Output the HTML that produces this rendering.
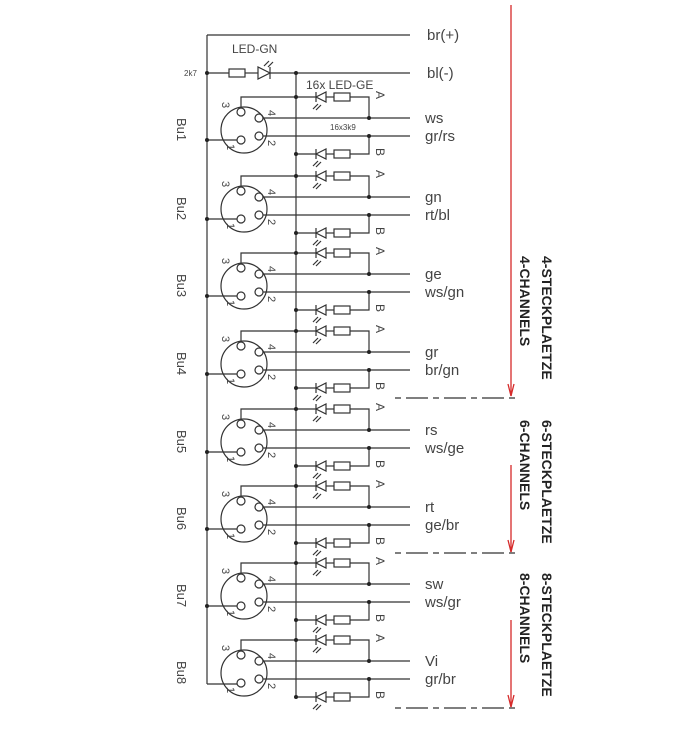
<!DOCTYPE html>
<html><head><meta charset="utf-8"><style>
html,body{margin:0;padding:0;background:#fff;}
svg{display:block;}
text{font-family:"Liberation Sans",sans-serif;fill:#444;}
</style></head><body>
<svg width="693" height="745" viewBox="0 0 693 745" xmlns="http://www.w3.org/2000/svg">
<g stroke="#333" stroke-width="1.2" fill="none">
<line x1="207" y1="35" x2="410" y2="35"/>
<line x1="207" y1="35" x2="207" y2="684"/>
<line x1="207" y1="73" x2="229" y2="73"/>
<rect x="229" y="69" width="16" height="8"/>
<line x1="245" y1="73" x2="258" y2="73"/>
<polygon points="258,67 258,79 270,73"/>
<line x1="270" y1="67" x2="270" y2="79"/>
<line x1="270" y1="73" x2="410" y2="73"/>
<line x1="264" y1="66" x2="269" y2="61"/><line x1="268" y1="67" x2="273" y2="62"/>
<line x1="296" y1="73" x2="296" y2="697"/>
</g>
<circle cx="207" cy="73" r="2" fill="#222"/><circle cx="296" cy="73" r="2" fill="#222"/>
<text x="232" y="53" font-size="12">LED-GN</text>
<text x="184" y="76" font-size="8">2k7</text>
<text x="306" y="89" font-size="12">16x LED-GE</text>
<text x="330" y="130" font-size="8">16x3k9</text>
<text x="427" y="40" font-size="15">br(+)</text>
<text x="427" y="78" font-size="15">bl(-)</text>

<g id="blocks">
<!-- block template repeated -->
<g transform="translate(0,118)"><g stroke="#333" stroke-width="1.2" fill="none"><line x1="263" y1="0" x2="410" y2="0"/><line x1="263" y1="18" x2="410" y2="18"/><circle cx="244" cy="12" r="23"/><circle cx="241" cy="-6" r="4"/><circle cx="259" cy="0" r="4"/><circle cx="259" cy="18" r="4"/><circle cx="241" cy="22" r="4"/><polyline points="241,-10 241,-21 316,-21"/><polygon points="316,-21 326,-26 326,-16"/><line x1="316" y1="-26" x2="316" y2="-16"/><line x1="326" y1="-21" x2="334" y2="-21"/><rect x="334" y="-25" width="16" height="8"/><polyline points="350,-21 369,-21 369,0"/><line x1="296" y1="36" x2="316" y2="36"/><polygon points="316,36 326,31 326,41"/><line x1="316" y1="31" x2="316" y2="41"/><line x1="326" y1="36" x2="334" y2="36"/><rect x="334" y="32" width="16" height="8"/><polyline points="350,36 369,36 369,18"/><line x1="237" y1="22" x2="207" y2="22"/><line x1="318" y1="-14" x2="313" y2="-9"/><line x1="321" y1="-13" x2="316" y2="-8"/><line x1="318" y1="43" x2="313" y2="48"/><line x1="321" y1="44" x2="316" y2="49"/></g><g fill="#222"><circle cx="296" cy="-21" r="2"/><circle cx="296" cy="36" r="2"/><circle cx="369" cy="0" r="2"/><circle cx="369" cy="18" r="2"/><circle cx="207" cy="22" r="2"/></g><text font-size="11" transform="translate(222,-16) rotate(90)">3</text><text font-size="11" transform="translate(268,-8) rotate(90)">4</text><text font-size="11" transform="translate(268,22) rotate(90)">2</text><text font-size="11" transform="translate(227,26) rotate(90)">1</text><text font-size="12" transform="translate(376,-27) rotate(90)">A</text><text font-size="12" transform="translate(376,30) rotate(90)">B</text><text font-size="13" transform="translate(177,0) rotate(90)">Bu1</text><text x="425" y="5" font-size="15">ws</text><text x="425" y="23" font-size="15">gr/rs</text></g>

<g transform="translate(0,197)"><g stroke="#333" stroke-width="1.2" fill="none"><line x1="263" y1="0" x2="410" y2="0"/><line x1="263" y1="18" x2="410" y2="18"/><circle cx="244" cy="12" r="23"/><circle cx="241" cy="-6" r="4"/><circle cx="259" cy="0" r="4"/><circle cx="259" cy="18" r="4"/><circle cx="241" cy="22" r="4"/><polyline points="241,-10 241,-21 316,-21"/><polygon points="316,-21 326,-26 326,-16"/><line x1="316" y1="-26" x2="316" y2="-16"/><line x1="326" y1="-21" x2="334" y2="-21"/><rect x="334" y="-25" width="16" height="8"/><polyline points="350,-21 369,-21 369,0"/><line x1="296" y1="36" x2="316" y2="36"/><polygon points="316,36 326,31 326,41"/><line x1="316" y1="31" x2="316" y2="41"/><line x1="326" y1="36" x2="334" y2="36"/><rect x="334" y="32" width="16" height="8"/><polyline points="350,36 369,36 369,18"/><line x1="237" y1="22" x2="207" y2="22"/><line x1="318" y1="-14" x2="313" y2="-9"/><line x1="321" y1="-13" x2="316" y2="-8"/><line x1="318" y1="43" x2="313" y2="48"/><line x1="321" y1="44" x2="316" y2="49"/></g><g fill="#222"><circle cx="296" cy="-21" r="2"/><circle cx="296" cy="36" r="2"/><circle cx="369" cy="0" r="2"/><circle cx="369" cy="18" r="2"/><circle cx="207" cy="22" r="2"/></g><text font-size="11" transform="translate(222,-16) rotate(90)">3</text><text font-size="11" transform="translate(268,-8) rotate(90)">4</text><text font-size="11" transform="translate(268,22) rotate(90)">2</text><text font-size="11" transform="translate(227,26) rotate(90)">1</text><text font-size="12" transform="translate(376,-27) rotate(90)">A</text><text font-size="12" transform="translate(376,30) rotate(90)">B</text><text font-size="13" transform="translate(177,0) rotate(90)">Bu2</text><text x="425" y="5" font-size="15">gn</text><text x="425" y="23" font-size="15">rt/bl</text></g>

<g transform="translate(0,274)"><g stroke="#333" stroke-width="1.2" fill="none"><line x1="263" y1="0" x2="410" y2="0"/><line x1="263" y1="18" x2="410" y2="18"/><circle cx="244" cy="12" r="23"/><circle cx="241" cy="-6" r="4"/><circle cx="259" cy="0" r="4"/><circle cx="259" cy="18" r="4"/><circle cx="241" cy="22" r="4"/><polyline points="241,-10 241,-21 316,-21"/><polygon points="316,-21 326,-26 326,-16"/><line x1="316" y1="-26" x2="316" y2="-16"/><line x1="326" y1="-21" x2="334" y2="-21"/><rect x="334" y="-25" width="16" height="8"/><polyline points="350,-21 369,-21 369,0"/><line x1="296" y1="36" x2="316" y2="36"/><polygon points="316,36 326,31 326,41"/><line x1="316" y1="31" x2="316" y2="41"/><line x1="326" y1="36" x2="334" y2="36"/><rect x="334" y="32" width="16" height="8"/><polyline points="350,36 369,36 369,18"/><line x1="237" y1="22" x2="207" y2="22"/><line x1="318" y1="-14" x2="313" y2="-9"/><line x1="321" y1="-13" x2="316" y2="-8"/><line x1="318" y1="43" x2="313" y2="48"/><line x1="321" y1="44" x2="316" y2="49"/></g><g fill="#222"><circle cx="296" cy="-21" r="2"/><circle cx="296" cy="36" r="2"/><circle cx="369" cy="0" r="2"/><circle cx="369" cy="18" r="2"/><circle cx="207" cy="22" r="2"/></g><text font-size="11" transform="translate(222,-16) rotate(90)">3</text><text font-size="11" transform="translate(268,-8) rotate(90)">4</text><text font-size="11" transform="translate(268,22) rotate(90)">2</text><text font-size="11" transform="translate(227,26) rotate(90)">1</text><text font-size="12" transform="translate(376,-27) rotate(90)">A</text><text font-size="12" transform="translate(376,30) rotate(90)">B</text><text font-size="13" transform="translate(177,0) rotate(90)">Bu3</text><text x="425" y="5" font-size="15">ge</text><text x="425" y="23" font-size="15">ws/gn</text></g>

<g transform="translate(0,352)"><g stroke="#333" stroke-width="1.2" fill="none"><line x1="263" y1="0" x2="410" y2="0"/><line x1="263" y1="18" x2="410" y2="18"/><circle cx="244" cy="12" r="23"/><circle cx="241" cy="-6" r="4"/><circle cx="259" cy="0" r="4"/><circle cx="259" cy="18" r="4"/><circle cx="241" cy="22" r="4"/><polyline points="241,-10 241,-21 316,-21"/><polygon points="316,-21 326,-26 326,-16"/><line x1="316" y1="-26" x2="316" y2="-16"/><line x1="326" y1="-21" x2="334" y2="-21"/><rect x="334" y="-25" width="16" height="8"/><polyline points="350,-21 369,-21 369,0"/><line x1="296" y1="36" x2="316" y2="36"/><polygon points="316,36 326,31 326,41"/><line x1="316" y1="31" x2="316" y2="41"/><line x1="326" y1="36" x2="334" y2="36"/><rect x="334" y="32" width="16" height="8"/><polyline points="350,36 369,36 369,18"/><line x1="237" y1="22" x2="207" y2="22"/><line x1="318" y1="-14" x2="313" y2="-9"/><line x1="321" y1="-13" x2="316" y2="-8"/><line x1="318" y1="43" x2="313" y2="48"/><line x1="321" y1="44" x2="316" y2="49"/></g><g fill="#222"><circle cx="296" cy="-21" r="2"/><circle cx="296" cy="36" r="2"/><circle cx="369" cy="0" r="2"/><circle cx="369" cy="18" r="2"/><circle cx="207" cy="22" r="2"/></g><text font-size="11" transform="translate(222,-16) rotate(90)">3</text><text font-size="11" transform="translate(268,-8) rotate(90)">4</text><text font-size="11" transform="translate(268,22) rotate(90)">2</text><text font-size="11" transform="translate(227,26) rotate(90)">1</text><text font-size="12" transform="translate(376,-27) rotate(90)">A</text><text font-size="12" transform="translate(376,30) rotate(90)">B</text><text font-size="13" transform="translate(177,0) rotate(90)">Bu4</text><text x="425" y="5" font-size="15">gr</text><text x="425" y="23" font-size="15">br/gn</text></g>

<g transform="translate(0,430)"><g stroke="#333" stroke-width="1.2" fill="none"><line x1="263" y1="0" x2="410" y2="0"/><line x1="263" y1="18" x2="410" y2="18"/><circle cx="244" cy="12" r="23"/><circle cx="241" cy="-6" r="4"/><circle cx="259" cy="0" r="4"/><circle cx="259" cy="18" r="4"/><circle cx="241" cy="22" r="4"/><polyline points="241,-10 241,-21 316,-21"/><polygon points="316,-21 326,-26 326,-16"/><line x1="316" y1="-26" x2="316" y2="-16"/><line x1="326" y1="-21" x2="334" y2="-21"/><rect x="334" y="-25" width="16" height="8"/><polyline points="350,-21 369,-21 369,0"/><line x1="296" y1="36" x2="316" y2="36"/><polygon points="316,36 326,31 326,41"/><line x1="316" y1="31" x2="316" y2="41"/><line x1="326" y1="36" x2="334" y2="36"/><rect x="334" y="32" width="16" height="8"/><polyline points="350,36 369,36 369,18"/><line x1="237" y1="22" x2="207" y2="22"/><line x1="318" y1="-14" x2="313" y2="-9"/><line x1="321" y1="-13" x2="316" y2="-8"/><line x1="318" y1="43" x2="313" y2="48"/><line x1="321" y1="44" x2="316" y2="49"/></g><g fill="#222"><circle cx="296" cy="-21" r="2"/><circle cx="296" cy="36" r="2"/><circle cx="369" cy="0" r="2"/><circle cx="369" cy="18" r="2"/><circle cx="207" cy="22" r="2"/></g><text font-size="11" transform="translate(222,-16) rotate(90)">3</text><text font-size="11" transform="translate(268,-8) rotate(90)">4</text><text font-size="11" transform="translate(268,22) rotate(90)">2</text><text font-size="11" transform="translate(227,26) rotate(90)">1</text><text font-size="12" transform="translate(376,-27) rotate(90)">A</text><text font-size="12" transform="translate(376,30) rotate(90)">B</text><text font-size="13" transform="translate(177,0) rotate(90)">Bu5</text><text x="425" y="5" font-size="15">rs</text><text x="425" y="23" font-size="15">ws/ge</text></g>

<g transform="translate(0,507)"><g stroke="#333" stroke-width="1.2" fill="none"><line x1="263" y1="0" x2="410" y2="0"/><line x1="263" y1="18" x2="410" y2="18"/><circle cx="244" cy="12" r="23"/><circle cx="241" cy="-6" r="4"/><circle cx="259" cy="0" r="4"/><circle cx="259" cy="18" r="4"/><circle cx="241" cy="22" r="4"/><polyline points="241,-10 241,-21 316,-21"/><polygon points="316,-21 326,-26 326,-16"/><line x1="316" y1="-26" x2="316" y2="-16"/><line x1="326" y1="-21" x2="334" y2="-21"/><rect x="334" y="-25" width="16" height="8"/><polyline points="350,-21 369,-21 369,0"/><line x1="296" y1="36" x2="316" y2="36"/><polygon points="316,36 326,31 326,41"/><line x1="316" y1="31" x2="316" y2="41"/><line x1="326" y1="36" x2="334" y2="36"/><rect x="334" y="32" width="16" height="8"/><polyline points="350,36 369,36 369,18"/><line x1="237" y1="22" x2="207" y2="22"/><line x1="318" y1="-14" x2="313" y2="-9"/><line x1="321" y1="-13" x2="316" y2="-8"/><line x1="318" y1="43" x2="313" y2="48"/><line x1="321" y1="44" x2="316" y2="49"/></g><g fill="#222"><circle cx="296" cy="-21" r="2"/><circle cx="296" cy="36" r="2"/><circle cx="369" cy="0" r="2"/><circle cx="369" cy="18" r="2"/><circle cx="207" cy="22" r="2"/></g><text font-size="11" transform="translate(222,-16) rotate(90)">3</text><text font-size="11" transform="translate(268,-8) rotate(90)">4</text><text font-size="11" transform="translate(268,22) rotate(90)">2</text><text font-size="11" transform="translate(227,26) rotate(90)">1</text><text font-size="12" transform="translate(376,-27) rotate(90)">A</text><text font-size="12" transform="translate(376,30) rotate(90)">B</text><text font-size="13" transform="translate(177,0) rotate(90)">Bu6</text><text x="425" y="5" font-size="15">rt</text><text x="425" y="23" font-size="15">ge/br</text></g>

<g transform="translate(0,584)"><g stroke="#333" stroke-width="1.2" fill="none"><line x1="263" y1="0" x2="410" y2="0"/><line x1="263" y1="18" x2="410" y2="18"/><circle cx="244" cy="12" r="23"/><circle cx="241" cy="-6" r="4"/><circle cx="259" cy="0" r="4"/><circle cx="259" cy="18" r="4"/><circle cx="241" cy="22" r="4"/><polyline points="241,-10 241,-21 316,-21"/><polygon points="316,-21 326,-26 326,-16"/><line x1="316" y1="-26" x2="316" y2="-16"/><line x1="326" y1="-21" x2="334" y2="-21"/><rect x="334" y="-25" width="16" height="8"/><polyline points="350,-21 369,-21 369,0"/><line x1="296" y1="36" x2="316" y2="36"/><polygon points="316,36 326,31 326,41"/><line x1="316" y1="31" x2="316" y2="41"/><line x1="326" y1="36" x2="334" y2="36"/><rect x="334" y="32" width="16" height="8"/><polyline points="350,36 369,36 369,18"/><line x1="237" y1="22" x2="207" y2="22"/><line x1="318" y1="-14" x2="313" y2="-9"/><line x1="321" y1="-13" x2="316" y2="-8"/><line x1="318" y1="43" x2="313" y2="48"/><line x1="321" y1="44" x2="316" y2="49"/></g><g fill="#222"><circle cx="296" cy="-21" r="2"/><circle cx="296" cy="36" r="2"/><circle cx="369" cy="0" r="2"/><circle cx="369" cy="18" r="2"/><circle cx="207" cy="22" r="2"/></g><text font-size="11" transform="translate(222,-16) rotate(90)">3</text><text font-size="11" transform="translate(268,-8) rotate(90)">4</text><text font-size="11" transform="translate(268,22) rotate(90)">2</text><text font-size="11" transform="translate(227,26) rotate(90)">1</text><text font-size="12" transform="translate(376,-27) rotate(90)">A</text><text font-size="12" transform="translate(376,30) rotate(90)">B</text><text font-size="13" transform="translate(177,0) rotate(90)">Bu7</text><text x="425" y="5" font-size="15">sw</text><text x="425" y="23" font-size="15">ws/gr</text></g>

<g transform="translate(0,661)"><g stroke="#333" stroke-width="1.2" fill="none"><line x1="263" y1="0" x2="410" y2="0"/><line x1="263" y1="18" x2="410" y2="18"/><circle cx="244" cy="12" r="23"/><circle cx="241" cy="-6" r="4"/><circle cx="259" cy="0" r="4"/><circle cx="259" cy="18" r="4"/><circle cx="241" cy="22" r="4"/><polyline points="241,-10 241,-21 316,-21"/><polygon points="316,-21 326,-26 326,-16"/><line x1="316" y1="-26" x2="316" y2="-16"/><line x1="326" y1="-21" x2="334" y2="-21"/><rect x="334" y="-25" width="16" height="8"/><polyline points="350,-21 369,-21 369,0"/><line x1="296" y1="36" x2="316" y2="36"/><polygon points="316,36 326,31 326,41"/><line x1="316" y1="31" x2="316" y2="41"/><line x1="326" y1="36" x2="334" y2="36"/><rect x="334" y="32" width="16" height="8"/><polyline points="350,36 369,36 369,18"/><line x1="237" y1="23" x2="207" y2="23"/><line x1="318" y1="-14" x2="313" y2="-9"/><line x1="321" y1="-13" x2="316" y2="-8"/><line x1="318" y1="43" x2="313" y2="48"/><line x1="321" y1="44" x2="316" y2="49"/></g><g fill="#222"><circle cx="296" cy="-21" r="2"/><circle cx="296" cy="36" r="2"/><circle cx="369" cy="0" r="2"/><circle cx="369" cy="18" r="2"/></g><text font-size="11" transform="translate(222,-16) rotate(90)">3</text><text font-size="11" transform="translate(268,-8) rotate(90)">4</text><text font-size="11" transform="translate(268,22) rotate(90)">2</text><text font-size="11" transform="translate(227,26) rotate(90)">1</text><text font-size="12" transform="translate(376,-27) rotate(90)">A</text><text font-size="12" transform="translate(376,30) rotate(90)">B</text><text font-size="13" transform="translate(177,0) rotate(90)">Bu8</text><text x="425" y="5" font-size="15">Vi</text><text x="425" y="23" font-size="15">gr/br</text></g>
</g>

<!-- dashed separators -->
<g stroke="#333" stroke-width="1.2" stroke-dasharray="6,5,22,5">
<line x1="395" y1="398" x2="515" y2="398"/>
<line x1="395" y1="553" x2="515" y2="553"/>
<line x1="395" y1="708" x2="515" y2="708"/>
</g>
<!-- red arrows -->
<g stroke="#d62a2a" stroke-width="1.3" fill="none">
<line x1="511" y1="5" x2="511" y2="396"/>
<polyline points="508,384 511,396 514,384"/>
<line x1="511" y1="465" x2="511" y2="552"/>
<polyline points="508,540 511,552 514,540"/>
<line x1="511" y1="620" x2="511" y2="707"/>
<polyline points="508,695 511,707 514,695"/>
</g>
<g font-size="14" font-weight="bold">
<text transform="translate(542,256) rotate(90)" style="fill:#222">4-STECKPLAETZE</text>
<text transform="translate(520,256) rotate(90)" style="fill:#222">4-CHANNELS</text>
<text transform="translate(542,420) rotate(90)" style="fill:#222">6-STECKPLAETZE</text>
<text transform="translate(520,420) rotate(90)" style="fill:#222">6-CHANNELS</text>
<text transform="translate(542,573) rotate(90)" style="fill:#222">8-STECKPLAETZE</text>
<text transform="translate(520,573) rotate(90)" style="fill:#222">8-CHANNELS</text>
</g>
</svg>
</body></html>
